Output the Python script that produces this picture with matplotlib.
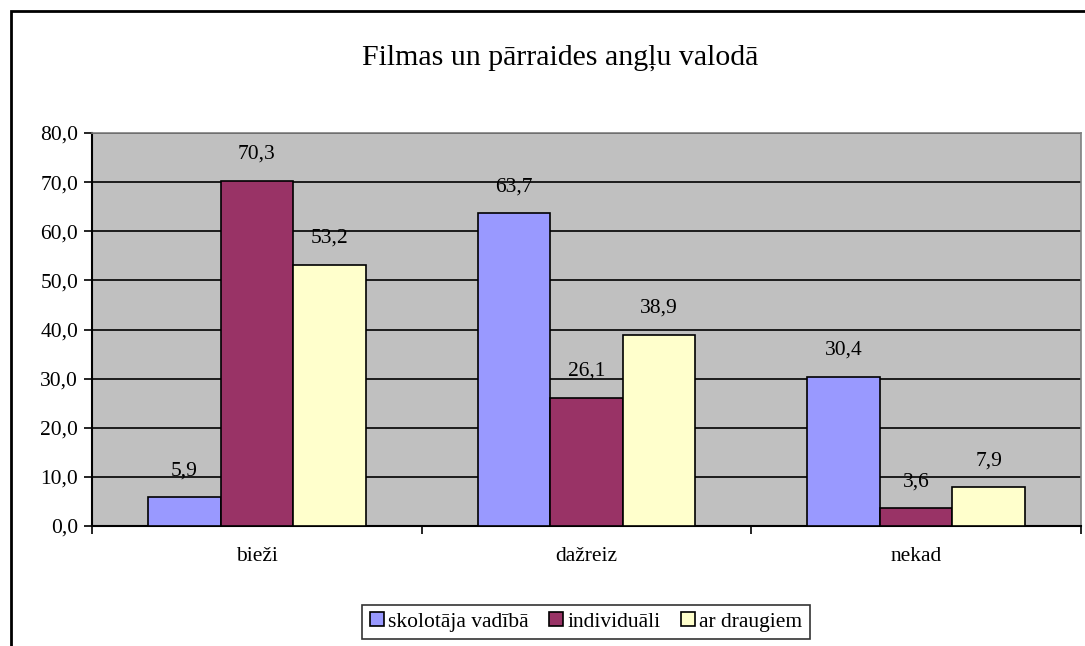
import matplotlib.pyplot as plt
import numpy as np
from matplotlib.patches import Rectangle

# ---------------------------------------------------------------------------
# Data
# ---------------------------------------------------------------------------
TITLE = "Filmas un pārraides angļu valodā"
CATEGORIES = ["bieži", "dažreiz", "nekad"]
SERIES = ["skolotāja vadībā", "individuāli", "ar draugiem"]
SKOLOTAJA = [5.9, 63.7, 30.4]
INDIVIDUALI = [70.3, 26.1, 3.6]
AR_DRAUGIEM = [53.2, 38.9, 7.9]
Y_TICKS = [0, 10, 20, 30, 40, 50, 60, 70, 80]

COLORS = ["#9999FF", "#993366", "#FFFFCC"]
FS = 15.5


def fmt(v: float) -> str:
    return f"{v:.1f}".replace(".", ",")


plt.rcParams["font.family"] = ["Liberation Serif", "DejaVu Serif"]

fig = plt.figure(figsize=(10.85, 6.46), dpi=100)
W, H = 1085, 646

# Outer chart frame (right and bottom edges fall outside the image)
fig.patches.append(Rectangle((11 / W, -0.1), 1.2, 1 - 11 / H + 0.1,
                             transform=fig.transFigure, fill=False,
                             edgecolor="black", linewidth=2.0))

ax = fig.add_axes([92 / W, 1 - 526 / H, (1081 - 92) / W, (526 - 133) / H])
ax.set_facecolor("#C0C0C0")

x = np.arange(len(CATEGORIES))
bw = 0.22
for i, (vals, col) in enumerate(zip([SKOLOTAJA, INDIVIDUALI, AR_DRAUGIEM], COLORS)):
    pos = x + (i - 1) * bw
    ax.bar(pos, vals, bw, color=col, edgecolor="black", linewidth=1.2,
           label=SERIES[i], zorder=3)
    for p, v in zip(pos, vals):
        ax.annotate(fmt(v), (p, v), xytext=(0, 19), textcoords="offset points",
                    ha="center", va="center", fontsize=FS, zorder=4)

ax.set_xlim(-0.5, len(CATEGORIES) - 0.5)
ax.set_ylim(0, 80)
ax.set_yticks(Y_TICKS)
ax.set_yticklabels([fmt(t) for t in Y_TICKS], fontsize=FS)
ax.yaxis.grid(True, color="black", linewidth=1.2, zorder=1)
ax.set_axisbelow(True)

ax.set_xticks(x)
ax.set_xticklabels(CATEGORIES, fontsize=FS)
ax.tick_params(axis="x", length=0, pad=15)
ax.set_xticks(np.arange(-0.5, len(CATEGORIES)), minor=True)
ax.tick_params(axis="x", which="minor", length=6, width=1.2, direction="out")
ax.tick_params(axis="y", length=6, width=1.2, direction="out", pad=4)

for side in ["top", "right"]:
    ax.spines[side].set_color("#808080")
    ax.spines[side].set_linewidth(1.2)
for side in ["left", "bottom"]:
    ax.spines[side].set_color("black")
    ax.spines[side].set_linewidth(1.5)

fig.text(560 / W, 1 - 58 / H, TITLE, ha="center", va="center", fontsize=21.5)

leg = fig.legend(loc="center", bbox_to_anchor=(586 / W, 1 - 622 / H), ncol=3,
                 frameon=True, fancybox=False, fontsize=FS,
                 handlelength=0.65, handleheight=0.65, handletextpad=0.2,
                 columnspacing=0.95, borderpad=0.35, borderaxespad=0)
leg.get_frame().set_edgecolor("black")
leg.get_frame().set_linewidth(1.2)

fig.savefig("out.png", dpi=100)
